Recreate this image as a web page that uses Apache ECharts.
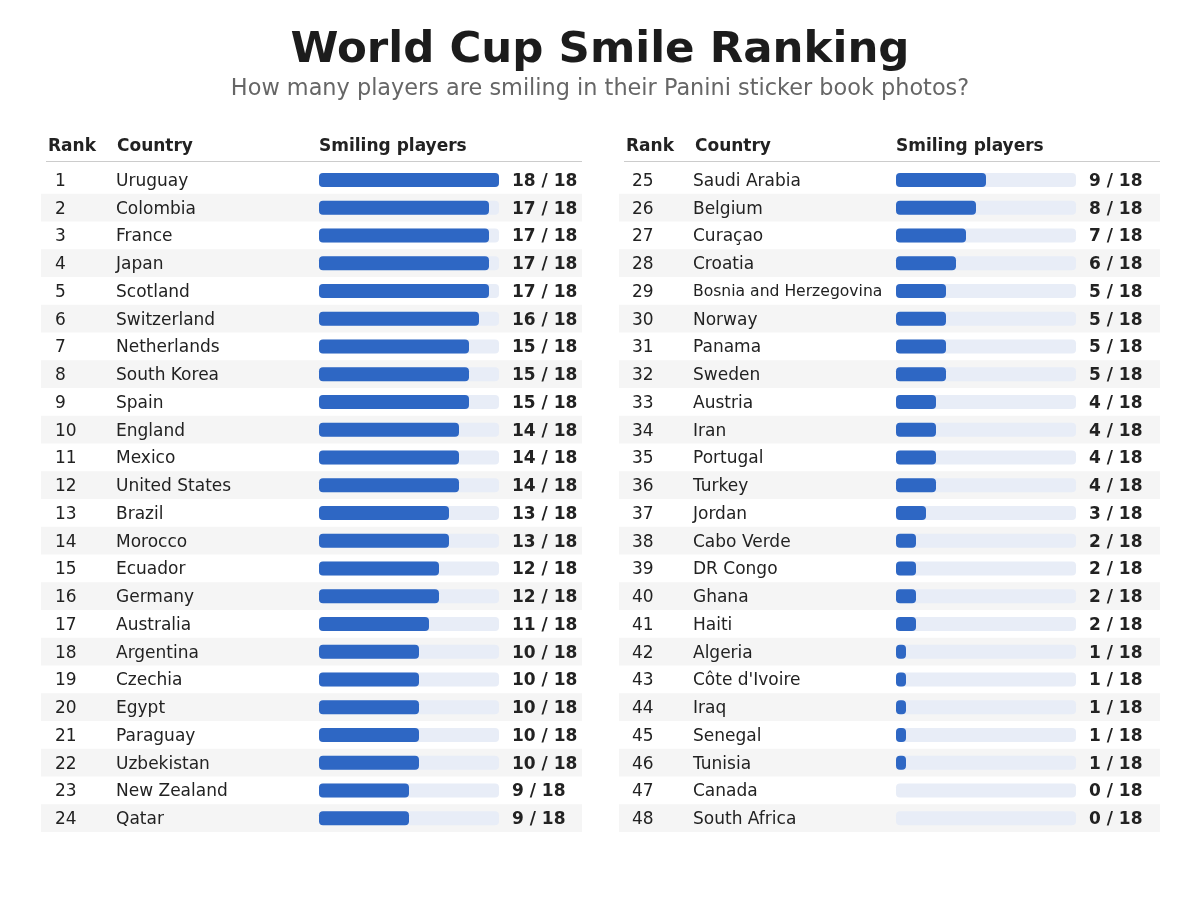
<!DOCTYPE html>
<html>
<head>
<meta charset="utf-8">
<script src="https://cdn.jsdelivr.net/npm/echarts@6/dist/echarts.min.js"></script>
<style>html,body{margin:0;padding:0;background:#fff;}#main{width:1200px;height:900px;}</style>
</head>
<body>
<div id="main"></div>
<script>
const titleText = 'World Cup Smile Ranking';
const subtitleText = 'How many players are smiling in their Panini sticker book photos?';
const headers = ['Rank', 'Country', 'Smiling players'];
const total = 18;

const leftCountries = ['Uruguay','Colombia','France','Japan','Scotland','Switzerland','Netherlands','South Korea','Spain','England','Mexico','United States','Brazil','Morocco','Ecuador','Germany','Australia','Argentina','Czechia','Egypt','Paraguay','Uzbekistan','New Zealand','Qatar'];
const leftValues = [18,17,17,17,17,16,15,15,15,14,14,14,13,13,12,12,11,10,10,10,10,10,9,9];
const leftRanks = [1,2,3,4,5,6,7,8,9,10,11,12,13,14,15,16,17,18,19,20,21,22,23,24];

const rightCountries = ['Saudi Arabia','Belgium','Curaçao','Croatia','Bosnia and Herzegovina','Norway','Panama','Sweden','Austria','Iran','Portugal','Turkey','Jordan','Cabo Verde','DR Congo','Ghana','Haiti','Algeria',"Côte d'Ivoire",'Iraq','Senegal','Tunisia','Canada','South Africa'];
const rightValues = [9,8,7,6,5,5,5,5,4,4,4,4,3,2,2,2,2,1,1,1,1,1,0,0];
const rightRanks = [25,26,27,28,29,30,31,32,33,34,35,36,37,38,39,40,41,42,43,44,45,46,47,48];

const FONT = '"DejaVu Sans", sans-serif';
const TXT = '#222222';
const BAR = '#2E67C4';
const BARBG = '#E8EDF7';
const STRIPE = '#F5F5F5';

const TOP = 166, H = 666;
const panels = [
  {bgLeft: 41, barLeft: 319, countries: leftCountries, values: leftValues, ranks: leftRanks},
  {bgLeft: 619, barLeft: 896, countries: rightCountries, values: rightValues, ranks: rightRanks}
];

const grid = [], xAxis = [], yAxis = [], series = [], graphic = [];

graphic.push({type:'text', left:'center', top: 29, style:{text:titleText, font:'bold 43.5px ' + FONT, fill:'#1c1c1c'}});
graphic.push({type:'text', left:'center', top: 78, style:{text:subtitleText, font:'22.4px ' + FONT, fill:'#666666'}});

panels.forEach((p, pi) => {
  const gBg = grid.length;
  grid.push({left: p.bgLeft, top: TOP, width: 541, height: H, containLabel:false});
  const gBar = grid.length;
  grid.push({left: p.barLeft, top: TOP, width: 180, height: H, containLabel:false});

  const xBg = xAxis.length;
  xAxis.push({gridIndex: gBg, type:'value', min:0, max:1, show:false});
  const yBg = yAxis.length;
  yAxis.push({gridIndex: gBg, type:'category', inverse:true, data: p.countries,
    axisLine:{show:false}, axisTick:{show:false}, axisLabel:{show:false},
    splitLine:{show:false},
    splitArea:{show:true, interval:0, areaStyle:{color:['rgba(255,255,255,0)', STRIPE]}}});
  series.push({type:'bar', xAxisIndex:xBg, yAxisIndex:yBg, data: p.countries.map(()=>0), silent:true, itemStyle:{color:'rgba(0,0,0,0)'}});

  const xB = xAxis.length;
  xAxis.push({gridIndex: gBar, type:'value', min:0, max:total, show:false});
  const yL = yAxis.length;
  yAxis.push({gridIndex: gBar, type:'category', inverse:true, data: p.countries, position:'left',
    axisLine:{show:false}, axisTick:{show:false}, splitLine:{show:false},
    axisLabel:{interval:0, align:'left', margin: 264, padding:[3,0,0,0],
      formatter: (v, i) => '{r|' + p.ranks[i] + '}' + (v.length > 18 ? '{s|' + v + '}' : '{c|' + v + '}'),
      rich:{
        r:{width:61, fontSize:17, fontFamily:FONT, color:TXT},
        c:{fontSize:17, fontFamily:FONT, color:TXT},
        s:{fontSize:15.6, fontFamily:FONT, color:TXT}
      }}});
  const yR = yAxis.length;
  yAxis.push({gridIndex: gBar, type:'category', inverse:true, data: p.countries, position:'right',
    axisLine:{show:false}, axisTick:{show:false}, splitLine:{show:false},
    axisLabel:{interval:0, align:'left', margin: 13, padding:[3,0,0,0],
      formatter: (v, i) => '{v|' + p.values[i] + ' / ' + total + '}',
      rich:{v:{fontSize:17, fontWeight:'bold', fontFamily:FONT, color:TXT}}}});
  series.push({type:'bar', xAxisIndex:xB, yAxisIndex:yL, data:p.values, barWidth:14,
    itemStyle:{color:BAR, borderRadius:4},
    showBackground:true, backgroundStyle:{color:BARBG, borderRadius:4}});

  const hx = [p.bgLeft + 7, p.bgLeft + 76, p.barLeft];
  headers.forEach((h, k) => {
    graphic.push({type:'text', left: hx[k], top: 138, style:{text:h, font:'bold 17px ' + FONT, fill:TXT}});
  });
  graphic.push({type:'line', shape:{x1:p.bgLeft + 5, y1:161.5, x2:p.bgLeft + 541, y2:161.5}, style:{stroke:'#cccccc', lineWidth:1}});
});

const chart = echarts.init(document.getElementById('main'), null, {renderer:'canvas'});
chart.setOption({
  backgroundColor:'#ffffff',
  animation:false,
  grid, xAxis, yAxis, series, graphic
});
</script>
</body>
</html>
